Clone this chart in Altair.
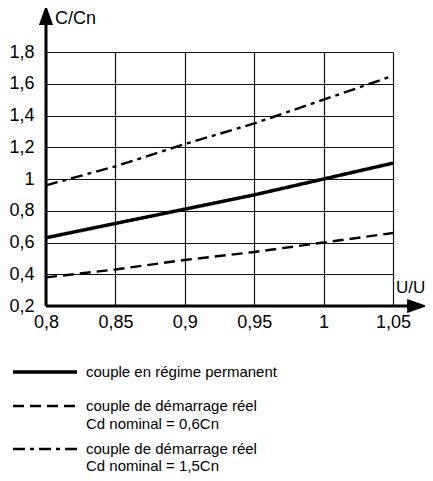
import altair as alt
import pandas as pd

# ---- data ----
u_values = [0.80, 0.85, 0.90, 0.95, 1.00, 1.05]
couple_permanent = [0.63, 0.72, 0.81, 0.90, 1.00, 1.10]
couple_demarrage_06 = [0.38, 0.43, 0.49, 0.54, 0.60, 0.66]
couple_demarrage_15 = [0.96, 1.08, 1.22, 1.35, 1.50, 1.65]

x_ticks = [0.8, 0.85, 0.9, 0.95, 1.0, 1.05]
y_ticks = [0.2, 0.4, 0.6, 0.8, 1.0, 1.2, 1.4, 1.6, 1.8]
x_title = "U/U"
y_title = "C/Cn"

legend_lines = [
    ["couple en régime permanent"],
    ["couple de démarrage réel", "Cd nominal = 0,6Cn"],
    ["couple de démarrage réel", "Cd nominal = 1,5Cn"],
]

# ---- styles ----
FONT = "Liberation Sans"
series_styles = [
    (couple_permanent, [1, 0], 3.5),
    (couple_demarrage_06, [11, 6], 2.4),
    (couple_demarrage_15, [12, 5, 4, 5], 2.4),
]

x_scale = alt.Scale(domain=[0.8, 1.05], nice=False, zero=False)
y_scale = alt.Scale(domain=[0.2, 1.8], nice=False, zero=False)
lab = "replace(toString(datum.value), '.', ',')"

layers = []

for i, (vals, dash, w) in enumerate(series_styles):
    df = pd.DataFrame({"u": u_values, "c": vals})
    if i == 0:
        enc_x = alt.X("u:Q", scale=x_scale, axis=alt.Axis(
            values=x_ticks, tickCount=len(x_ticks), grid=True, domain=False, ticks=False,
            tickSize=0, labelExpr=lab, title=None, gridColor="#111", gridWidth=1.2,
            gridOpacity=1, labelFont=FONT, labelFontSize=18, labelColor="black",
            labelPadding=7, labelFlush=False, labelOverlap=False))
        enc_y = alt.Y("c:Q", scale=y_scale, axis=alt.Axis(
            values=y_ticks, tickCount=len(y_ticks), grid=True, domain=False, ticks=False,
            tickSize=0, labelExpr=lab, title=None, gridColor="#111", gridWidth=1.2,
            gridOpacity=1, labelFont=FONT, labelFontSize=18, labelColor="black",
            labelPadding=12, labelFlush=False, labelOverlap=False))
    else:
        enc_x = alt.X("u:Q", scale=x_scale)
        enc_y = alt.Y("c:Q", scale=y_scale)
    layers.append(
        alt.Chart(df).mark_line(color="black", strokeWidth=w, strokeDash=dash)
        .encode(x=enc_x, y=enc_y)
    )

# axis lines with arrows (data units beyond the domain)
axes_df = pd.DataFrame({
    "u": [0.8, 0.8], "u2": [0.8, 1.062],
    "c": [0.2, 0.2], "c2": [2.0, 0.2],
})
layers.append(
    alt.Chart(axes_df).mark_rule(color="black", strokeWidth=3)
    .encode(x=alt.X("u:Q", scale=x_scale), x2="u2:Q",
            y=alt.Y("c:Q", scale=y_scale), y2="c2:Q")
)
arrow_up = pd.DataFrame({"u": [0.8], "c": [2.033]})
arrow_right = pd.DataFrame({"u": [1.0673], "c": [0.2]})
layers.append(
    alt.Chart(arrow_up).mark_point(shape="M0,-7L5,7L-5,7Z", filled=True, size=8,
                                   color="black", opacity=1, strokeWidth=0)
    .encode(x=alt.X("u:Q", scale=x_scale), y=alt.Y("c:Q", scale=y_scale))
)
layers.append(
    alt.Chart(arrow_right).mark_point(shape="M7,0L-7,-5L-7,5Z", filled=True, size=8,
                                      color="black", opacity=1, strokeWidth=0)
    .encode(x=alt.X("u:Q", scale=x_scale), y=alt.Y("c:Q", scale=y_scale))
)

def txt(s, x, y, size, align="left", baseline="middle"):
    return (alt.Chart(pd.DataFrame({"t": [s]}))
            .mark_text(font=FONT, fontSize=size, align=align, baseline=baseline, color="black")
            .encode(x=alt.value(x), y=alt.value(y), text="t:N"))

layers.append(txt(y_title, 9, -33, 18))
layers.append(txt(x_title, 350, 236, 17))

# legend
legend_y = [(320, [320]), (354, [354, 372]), (397, [397, 414])]
for (ly, text_ys), (vals, dash, w), lines in zip(legend_y, series_styles, legend_lines):
    layers.append(
        alt.Chart(pd.DataFrame({"k": [0]}))
        .mark_rule(color="black", strokeWidth=w if w > 3 else 2.6, strokeDash=dash)
        .encode(x=alt.value(-33), x2=alt.value(31), y=alt.value(ly))
    )
    for s, ty in zip(lines, text_ys):
        layers.append(txt(s, 40, ty, 15))

chart = (
    alt.layer(*layers)
    .properties(width=347, height=254,
                autosize=alt.AutoSizeParams(type="none"),
                padding={"left": 38, "top": 44, "right": 32, "bottom": 167},
                background="white")
    .configure_view(stroke=None)
)

chart.save("out.html", embed_options={"renderer": "svg", "actions": False})
